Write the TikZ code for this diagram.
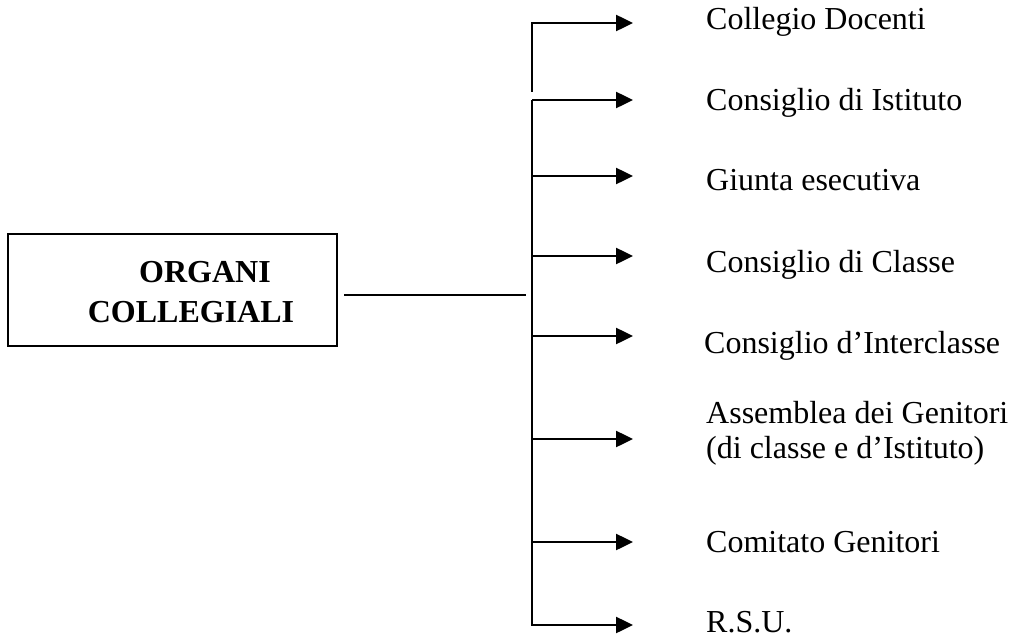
\documentclass[tikz,border=0pt]{standalone}
\usepackage{fontspec}
\setmainfont{Liberation Serif}
\usetikzlibrary{arrows.meta}
\begin{document}
\begin{tikzpicture}[x=1pt,y=-1pt,
  lbl/.style={anchor=base west, inner sep=0pt, font=\fontsize{32}{37}\selectfont},
  title/.style={anchor=base, inner sep=0pt, font=\fontsize{32}{37}\selectfont\bfseries},
  branch/.style={line width=2.5pt, -{Triangle[length=17pt,width=16pt]}},
  trunk/.style={line width=2.5pt},
  link/.style={line width=1.6pt}]
\useasboundingbox (0,0) rectangle (1010,637);
% box
\node[draw, line width=2pt, minimum width=329pt, minimum height=112pt, inner sep=0pt] (box) at (172.5,290) {};
\node[title] (t1) at (205,282) {ORGANI};
\node[title] (t2) at (191,322) {COLLEGIALI};
% trunk coordinates
\coordinate (j) at (526,295);
\coordinate (s1) at (531,23);  \coordinate (e1) at (633,23);
\coordinate (s1b) at (532,92);
\coordinate (s2) at (532,100); \coordinate (e2) at (633,100);
\coordinate (s3) at (532,176); \coordinate (e3) at (633,176);
\coordinate (s4) at (532,256); \coordinate (e4) at (633,256);
\coordinate (s5) at (532,336); \coordinate (e5) at (633,336);
\coordinate (s6) at (532,439); \coordinate (e6) at (633,439);
\coordinate (s7) at (532,542); \coordinate (e7) at (633,542);
\coordinate (s8) at (532,625); \coordinate (e8) at (633,625);
% lines
\draw[link] ([xshift=6pt]box.east |- j) -- (j);
\draw[trunk] (532,23) -- (s1b);
\draw[trunk] (s2) -- (532,626.2);
\foreach \i in {1,...,8} { \draw[branch] (s\i) -- (e\i); }
% labels
\node[lbl] (l1) at (706,30) {Collegio Docenti};
\node[lbl] (l2) at (706,110) {Consiglio di Istituto};
\node[lbl] (l3) at (706,190) {Giunta esecutiva};
\node[lbl] (l4) at (706,272) {Consiglio di Classe};
\node[lbl] (l5) at (704,353) {Consiglio d’Interclasse};
\node[lbl] (l6) at (706,423) {Assemblea dei Genitori};
\node[lbl] (l6b) at (706,458) {(di classe e d’Istituto)};
\node[lbl] (l7) at (706,552) {Comitato Genitori};
\node[lbl] (l8) at (706,632) {R.S.U.};
\end{tikzpicture}
\end{document}
